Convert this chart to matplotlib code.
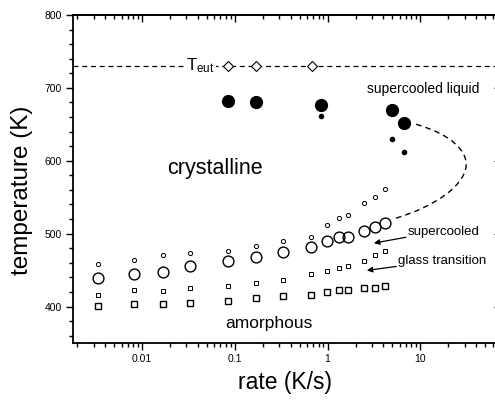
import numpy as np
import matplotlib
matplotlib.use('Agg')
import matplotlib.pyplot as plt
from matplotlib.path import Path
from matplotlib.patches import PathPatch
from matplotlib.ticker import LogLocator, MultipleLocator, NullFormatter, FixedLocator

plt.rcParams['font.family'] = ['Liberation Sans', 'DejaVu Sans']
plt.rcParams['mathtext.default'] = 'regular'

# heating rates (K/s) shared by the open symbols
rates = [0.00333, 0.00818, 0.0166, 0.033, 0.084, 0.168, 0.333, 0.664,
         0.99, 1.32, 1.65, 2.44, 3.27, 4.17]
t_sc_big = [439, 445, 448, 455, 462, 468, 475, 482, 490, 495, 496, 503, 509, 515]
t_sc_small = [459, 464, 470, 473, 476, 483, 490, 496, 512, 522, 525, 542, 550, 561]
t_g_big = [401, 403, 404, 405, 408, 411, 414, 416, 420, 423, 423, 425, 426, 428]
t_g_small = [416, 422, 421, 425, 428, 432, 437, 444, 449, 453, 456, 462, 470, 476]

# crystallisation (filled) and eutectic (diamonds)
rates_x = [0.084, 0.168, 0.84, 4.92, 6.59]
t_x_big = [682, 680, 676, 669, 652]
rates_x_small = [0.84, 4.92, 6.59]
t_x_small = [661, 630, 612]
rates_eut = [0.084, 0.168, 0.675]
t_eut = 730

# hand-drawn guide curve (bezier control points)
guide_x = [9.0, 22.0, 33.0, 31.0, 29.0, 15.0, 5.4]
guide_t = [650, 636, 612, 591, 566, 538, 521]

fig = plt.figure(figsize=(4.95, 4.03), dpi=100)
ax = fig.add_axes([0.1475, 0.149, 0.8585, 0.8138])
ax.set_xscale('log')
ax.set_xlim(0.0018, 68.7)
ax.set_ylim(350, 800)

ax.axhline(t_eut, color='black', lw=0.9, ls=(0, (4, 3)), zorder=1)
ax.plot(rates_eut, [t_eut] * 3, 'D', ms=5.5, mfc='white', mec='black', mew=0.8, zorder=3)
ax.text(0.0422, t_eut, r'T$_{eut}$', fontsize=12, ha='center', va='center',
        bbox=dict(facecolor='white', edgecolor='none', pad=1.5), zorder=2)

ax.plot(rates_x, t_x_big, 'o', ms=8.5, color='black', zorder=3)
ax.plot(rates_x_small, t_x_small, 'o', ms=3, color='black', zorder=3)

ax.plot(rates, t_sc_big, 'o', ms=7.8, mfc='none', mec='black', mew=1.0)
ax.plot(rates, t_sc_small, 'o', ms=3, mfc='none', mec='black', mew=0.7)
ax.plot(rates, t_g_big, 's', ms=5, mfc='none', mec='black', mew=1.0)
ax.plot(rates, t_g_small, 's', ms=3, mfc='none', mec='black', mew=0.7)

codes = [Path.MOVETO] + [Path.CURVE4] * 6
path = Path(list(zip(guide_x, guide_t)), codes)
ax.add_patch(PathPatch(path, facecolor='none', edgecolor='black', lw=1.0,
                       ls=(0, (4, 3)), zorder=2))

ax.text(0.0187, 590, 'crystalline', fontsize=15.5, ha='left', va='center')
ax.text(0.0798, 376.5, 'amorphous', fontsize=12.5, ha='left', va='center')
ax.text(2.65, 698, 'supercooled liquid', fontsize=10, ha='left', va='center')

arrow = dict(arrowstyle='-|>', color='black', lw=0.9, mutation_scale=8,
             shrinkA=0, shrinkB=0)
ax.text(7.3, 502, 'supercooled', fontsize=9.5, ha='left', va='center')
ax.annotate('', xy=(3.16, 487), xytext=(7.0, 495), arrowprops=arrow)
ax.text(5.7, 463, 'glass transition', fontsize=9.5, ha='left', va='center')
ax.annotate('', xy=(2.65, 449.5), xytext=(5.5, 455), arrowprops=arrow)

ax.set_xlabel('rate (K/s)', fontsize=16.5, labelpad=5)
ax.set_ylabel('temperature (K)', fontsize=17.5)
ax.yaxis.set_label_coords(-0.094, 0.466)

ax.xaxis.set_major_locator(FixedLocator([0.01, 0.1, 1, 10]))
ax.xaxis.set_major_formatter(matplotlib.ticker.FixedFormatter(['0.01', '0.1', '1', '10']))
ax.xaxis.set_minor_locator(LogLocator(base=10, subs=np.arange(2, 10)))
ax.xaxis.set_minor_formatter(NullFormatter())
ax.yaxis.set_major_locator(FixedLocator([400, 500, 600, 700, 800]))
ax.yaxis.set_minor_locator(MultipleLocator(20))

ax.tick_params(which='both', direction='out', labelsize=7.5, width=1.0)
ax.tick_params(which='major', length=5, pad=3)
ax.tick_params(which='minor', length=3)

# top and right ticks point inwards, without labels
top = ax.secondary_xaxis('top')
top.xaxis.set_major_locator(FixedLocator([0.01, 0.1, 1, 10]))
top.xaxis.set_minor_locator(LogLocator(base=10, subs=np.arange(2, 10)))
top.tick_params(which='both', direction='in', labeltop=False, width=1.0)
top.tick_params(which='major', length=5)
top.tick_params(which='minor', length=3)
right = ax.secondary_yaxis('right')
right.yaxis.set_major_locator(FixedLocator([400, 500, 600, 700, 800]))
right.yaxis.set_minor_locator(MultipleLocator(20))
right.tick_params(which='both', direction='inout', labelright=False, width=1.0)
right.tick_params(which='major', length=6)
right.tick_params(which='minor', length=3)

for s in ax.spines.values():
    s.set_linewidth(1.3)
top.spines['top'].set_linewidth(1.3)

fig.savefig('out.png', dpi=100)
